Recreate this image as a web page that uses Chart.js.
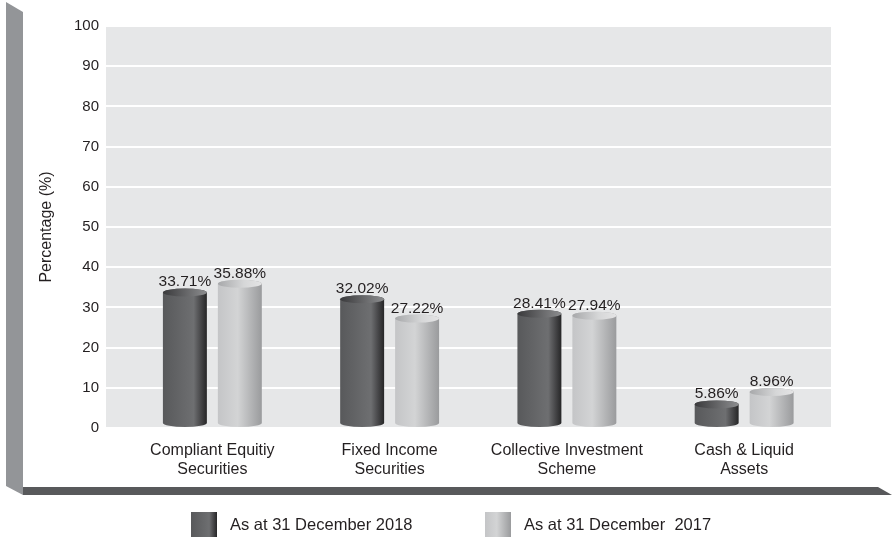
<!DOCTYPE html>
<html>
<head>
<meta charset="utf-8">
<script src="https://cdn.jsdelivr.net/npm/chart.js@4.4.1/dist/chart.umd.min.js"></script>
<style>
  html, body { margin: 0; padding: 0; background: #fff; }
  #wrap { width: 892px; height: 537px; position: relative; }
</style>
</head>
<body>
<div id="wrap"><canvas id="chart"></canvas></div>
<script>
// chart data
const categories = [
    ['Compliant Equitiy', 'Securities'],
    ['Fixed Income', 'Securities'],
    ['Collective Investment', 'Scheme'],
    ['Cash & Liquid', 'Assets']
];
const seriesLabels = ['As at 31 December 2018', 'As at 31 December  2017'];
const values2018 = [33.71, 32.02, 28.41, 5.86];
const values2017 = [35.88, 27.22, 27.94, 8.96];
const yMin = 0, yMax = 100, yStep = 10;

Chart.defaults.font.family = '"Liberation Sans", Arial, sans-serif';
Chart.defaults.color = '#231f20';

// colour stops for the cylinder bodies / caps
const darkStyle = {
    body: [[0, '#58595b'], [0.7, '#6e6f71'], [0.85, '#4a4a4c'], [1, '#262627']],
    cap: [[0, '#3a3a3c'], [1, '#8c8d8f']],
};
const lightStyle = {
    body: [[0, '#c4c5c7'], [0.45, '#d3d4d5'], [1, '#9a9b9d']],
    cap: [[0, '#a7a8aa'], [0.6, '#d6d7d8'], [1, '#e4e4e5']],
};

function gradient(ctx, x0, x1, stops) {
    const g = ctx.createLinearGradient(x0, 0, x1, 0);
    stops.forEach(s => g.addColorStop(s[0], s[1]));
    return g;
}

function drawCylinder(ctx, x, y, base, width, style) {
    const rx = width / 2, ry = 4;
    const left = x - rx, right = x + rx;
    const bottom = base - ry;
    ctx.save();
    ctx.beginPath();
    ctx.moveTo(left, y);
    ctx.lineTo(left, bottom);
    ctx.ellipse(x, bottom, rx, ry, 0, Math.PI, 0, true);
    ctx.lineTo(right, y);
    ctx.ellipse(x, y, rx, ry, 0, 0, Math.PI, true);
    ctx.closePath();
    ctx.fillStyle = gradient(ctx, left, right, style.body);
    ctx.fill();
    // top cap
    ctx.beginPath();
    ctx.ellipse(x, y, rx, ry, 0, 0, Math.PI * 2);
    ctx.fillStyle = gradient(ctx, left, right, style.cap);
    ctx.fill();
    ctx.restore();
}

// frame, plot background, cylinders, value labels and legend
const decorPlugin = {
    id: 'decor',
    beforeDraw(chart) {
        const ctx = chart.ctx, a = chart.chartArea;
        ctx.save();
        // left grey wall
        ctx.fillStyle = '#939598';
        ctx.beginPath();
        ctx.moveTo(6, 2); ctx.lineTo(23, 12); ctx.lineTo(23, 495); ctx.lineTo(6, 486);
        ctx.closePath(); ctx.fill();
        // bottom dark floor
        ctx.fillStyle = '#58595b';
        ctx.beginPath();
        ctx.moveTo(23, 487); ctx.lineTo(878, 487); ctx.lineTo(892, 495); ctx.lineTo(23, 495);
        ctx.closePath(); ctx.fill();
        // plot background
        ctx.fillStyle = '#e6e7e8';
        ctx.fillRect(a.left, a.top, a.right - a.left, a.bottom - a.top);
        ctx.restore();
    },
    afterDatasetsDraw(chart) {
        const ctx = chart.ctx;
        chart.data.datasets.forEach((ds, di) => {
            const meta = chart.getDatasetMeta(di);
            meta.data.forEach((el, i) => {
                const p = el.getProps(['x', 'y', 'base', 'width'], true);
                drawCylinder(ctx, p.x, p.y, p.base, p.width, ds.cylinder);
                ctx.save();
                ctx.font = '15.5px "Liberation Sans", Arial, sans-serif';
                ctx.fillStyle = '#231f20';
                ctx.textAlign = 'center';
                ctx.textBaseline = 'alphabetic';
                ctx.fillText(ds.data[i].y.toFixed(2) + '%', p.x, p.y - 6);
                ctx.restore();
            });
        });
    },
    afterDraw(chart) {
        const ctx = chart.ctx;
        const boxX = [191, 485];
        ctx.save();
        chart.data.datasets.forEach((ds, di) => {
            const bx = boxX[di];
            ctx.fillStyle = gradient(ctx, bx, bx + 26, ds.cylinder.body);
            ctx.fillRect(bx, 512, 26, 25);
            ctx.font = '16.5px "Liberation Sans", Arial, sans-serif';
            ctx.fillStyle = '#231f20';
            ctx.textAlign = 'left';
            ctx.textBaseline = 'middle';
            ctx.fillText(ds.label, bx + 39, 525);
        });
        ctx.restore();
    }
};

new Chart(document.getElementById('chart'), {
    type: 'bar',
    data: {
        datasets: [
            {
                label: seriesLabels[0],
                data: values2018.map((v, i) => ({ x: i, y: v })),
                backgroundColor: 'rgba(0,0,0,0)',
                cylinder: darkStyle,
            },
            {
                label: seriesLabels[1],
                data: values2017.map((v, i) => ({ x: i, y: v })),
                backgroundColor: 'rgba(0,0,0,0)',
                cylinder: lightStyle,
            },
        ],
    },
    options: {
        responsive: true,
        maintainAspectRatio: false,
        animation: false,
        categoryPercentage: 0.62,
        barPercentage: 0.8,
        layout: { padding: { left: 30, right: 61, top: 26, bottom: 51 } },
        plugins: {
            legend: { display: false },
            tooltip: { enabled: false },
        },
        scales: {
            x: {
                type: 'linear',
                offset: false,
                min: -0.6,
                max: 3.49,
                grid: { display: false, drawTicks: false },
                border: { display: false },
                afterBuildTicks: scale => { scale.ticks = categories.map((c, i) => ({ value: i })); },
                afterFit: scale => { scale.height = 58; },
                ticks: {
                    autoSkip: false,
                    maxRotation: 0,
                    padding: 14,
                    font: { size: 16, lineHeight: 1.13 },
                    callback: value => categories[value],
                },
            },
            y: {
                min: yMin,
                max: yMax,
                grid: { color: '#ffffff', lineWidth: 2, drawTicks: false },
                border: { display: false },
                afterFit: scale => { scale.width = 76; },
                ticks: { stepSize: yStep, padding: 7, font: { size: 15 } },
                title: {
                    display: true,
                    text: 'Percentage (%)',
                    font: { size: 16 },
                    padding: { top: 7, bottom: 0 },
                },
            },
        },
    },
    plugins: [decorPlugin],
});
</script>
</body>
</html>
